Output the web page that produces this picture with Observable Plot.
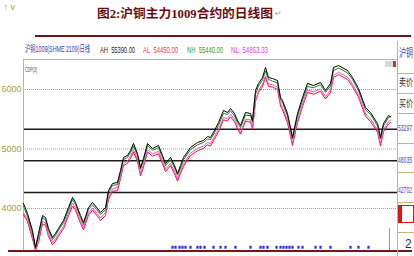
<!DOCTYPE html>
<html>
<head>
<meta charset="utf-8">
<script src="https://cdn.jsdelivr.net/npm/d3@7"></script>
<script src="https://cdn.jsdelivr.net/npm/@observablehq/plot@0.6"></script>
<style>
  html, body { margin: 0; padding: 0; background: #fff; overflow: hidden; }
  #wrap { position: relative; width: 414px; height: 256px; overflow: hidden; background: #fff; }
  #chart { position: absolute; left: 0; top: 0; }
  .t { position: absolute; white-space: nowrap; transform-origin: 0 0; display: inline-block; line-height: 1; }
  .hdr { font-family: "Liberation Sans", "Noto Sans CJK SC", sans-serif; font-size: 9px; }
  .bar { position: absolute; background: #701818; }
  .pl { position: absolute; background: #c4b878; }
</style>
</head>
<body>
<div id="wrap">
  <div id="chart"></div>
  <div class="t" id="title" style="left:97px; top:8px; font-family:'Liberation Serif','Noto Sans CJK SC',serif; font-weight:700; font-size:12.5px; color:#6a0c10;" data-w="176">图2:沪铜主力1009合约的日线图</div>
  <div class="t" style="left:275px; top:10px; font-family:'DejaVu Sans',sans-serif; font-size:8px; color:#999;">↵</div>
  <div class="bar" style="left:35px; top:35px; width:376px; height:2px;"></div>
  <div class="bar" style="left:8px; top:250px; width:404px; height:2px;"></div>

  <div class="t hdr" style="left:25px; top:45px; color:#3a3aa8;" data-w="65">沪铜1009(SHME 2109)日线</div>
  <div class="t hdr" style="left:100px; top:46px; color:#222;" data-w="35">AH&nbsp; 55390.00</div>
  <div class="t hdr" style="left:143px; top:46px; color:#f03838;" data-w="35">AL&nbsp; 54450.00</div>
  <div class="t hdr" style="left:187px; top:46px; color:#28a028;" data-w="36">NH&nbsp; 55440.00</div>
  <div class="t hdr" style="left:231px; top:46px; color:#e040e0;" data-w="37">NL&nbsp; 54863.33</div>
  <div class="t hdr" style="left:25px; top:66px; font-size:8px; color:#3a3aa8;" data-w="12">CDP(3)</div>

  <div class="pl" style="left:397px; top:41px; width:1px; height:215px;"></div>
  <div class="pl" style="left:397px; top:73px; width:17px; height:1px;"></div>
  <div class="pl" style="left:397px; top:93px; width:17px; height:1px;"></div>
  <div class="pl" style="left:397px; top:113px; width:17px; height:1px;"></div>
  <div class="pl" style="left:397px; top:143px; width:17px; height:1px;"></div>
  <div class="pl" style="left:397px; top:172px; width:17px; height:1px;"></div>
  <div class="pl" style="left:397px; top:202px; width:17px; height:1px;"></div>
  <div class="pl" style="left:397px; top:232px; width:17px; height:1px;"></div>
  <div class="t" style="left:399px; top:47px; font-family:'Noto Sans CJK SC',sans-serif; font-size:11px; color:#4848b8;" data-w="14">沪铜</div>
  <div class="t" style="left:385px; top:61px; width:8px; height:6px; background:#d8d8d8;"></div>
  <div class="t" style="left:393px; top:61px; width:3px; height:6px; background:#e03010;"></div>
  <div class="t hdr" style="left:399px; top:77px; font-family:'Noto Sans CJK SC',sans-serif; font-size:10px; color:#333;" data-w="14">卖价</div>
  <div class="t hdr" style="left:399px; top:98px; font-family:'Noto Sans CJK SC',sans-serif; font-size:10px; color:#333;" data-w="14">买价</div>
  <div class="t hdr" style="left:398px; top:124px; color:#4848c0;" data-w="14">53297</div>
  <div class="t hdr" style="left:398px; top:156px; color:#4848c0;" data-w="14">48035</div>
  <div class="t hdr" style="left:398px; top:186px; color:#4848c0;" data-w="14">42702</div>
  <div class="t" style="left:398px; top:205px; width:4px; height:18px; background:#e81010;"></div>
  <div class="t" style="left:402px; top:205px; width:11px; height:16px; border:1px solid #e81010; border-left:none;"></div>
  <div class="t" style="left:405px; top:238px; font-family:'Liberation Sans',sans-serif; font-size:12px; color:#333;">2</div>
</div>
<script>
// trading-session index of each sample
const days = [0,4,9,12,15,19,22,25,29,32,35,40,45,49,52,57,60,65,69,74,77,82,85,89,94,97,100,104,107,110,114,117,120,124,129,135,139,142,147,151,154,157,160,167,174,180,184,187,191,195,200,204,207,211,214,217,222,227,229,232,235,239,242,245,249,254,257,259,264,269,274,279,284,290,297,302,307,310,315,324,329,335,342,347,354,357,360,365,367];
const ahValues = [40840,39160,36300,33450,35800,38820,38490,36640,35130,35800,36640,37980,40170,41850,41010,38820,37650,40170,41010,40000,39330,40170,43030,44200,44370,46390,48570,48910,49750,50920,49240,46890,48400,50920,50080,50590,48910,47560,48570,47230,45880,47230,48570,50250,51090,51430,52100,51930,53110,54450,56470,56130,56810,55970,54790,53950,56130,55970,54790,59830,61010,62020,63700,62020,61850,61510,58660,58150,55970,51930,55970,58660,61010,60670,61180,59830,61010,63700,64030,63190,62020,60170,56980,56130,54290,51930,54290,55630,55390];
const nhValues = [40400,38700,35900,33300,35300,38500,38100,36300,34800,35500,36400,37600,39800,41500,40700,38500,37300,39900,40600,39700,39000,39800,42600,43900,44000,46000,48200,48600,49400,50500,48900,46600,48000,50600,49800,50200,48600,47200,48200,46900,45600,46800,48200,49900,50700,51100,51700,51600,52700,54000,56000,55800,56400,55600,54400,53600,55700,55600,54500,59200,60600,61600,63100,61700,61400,61100,58300,57800,55500,51700,55500,58200,60500,60300,60800,59500,60600,63200,63600,62800,61700,59800,56600,55800,53900,51700,53900,55300,55440];
const nlValues = [39300,38200,35400,32900,34600,37800,37600,35700,34300,34900,35800,37000,39200,40900,40100,37900,36800,39300,40100,39100,38400,39300,41900,43300,43500,45400,47500,48000,48800,49900,48300,45900,47400,49900,49200,49600,47900,46600,47600,46200,45000,46300,47500,49300,50100,50500,51100,50900,52100,53300,55300,55100,55800,55000,53800,52700,55000,54900,53600,57900,59800,60900,62300,60900,60800,60400,57600,57000,54800,51000,54700,57500,59900,59600,60100,58800,59900,62400,62900,62100,60900,59100,55900,55000,53200,50900,53300,54600,54860];
const alValues = [39000,37800,34900,32950,34300,37400,37200,35300,33900,34500,35400,36600,38800,40400,39700,37500,36400,38900,39700,38700,38000,38800,41500,42900,43000,45000,47200,47600,48400,49500,47900,45500,47000,49500,48800,49200,47500,46200,47200,45800,44600,45900,47100,48900,49700,50100,50700,50500,51700,52900,54900,54700,55400,54600,53400,52500,54700,54500,53300,58100,59500,60500,62000,60500,60400,60000,57200,56600,54400,50600,54400,57100,59500,59200,59700,58400,59500,62000,62500,61700,60500,58700,55500,54600,52800,50500,52900,54200,54450];

const gridValues = [40000, 50000, 60000];
const tickLabels = ["4000", "5000", "6000"];
const levelValues = [53297, 48035, 42702];
const signalDays = [149,152,156,159,162,167,174,177,181,190,197,202,212,227,237,240,244,253,257,260,263,266,269,275,279,292,297,307,327,335,345];
const volumeDays = [366];

const seriesList = [
  {name: "AL", values: alValues, color: "#e8103c"},
  {name: "NL", values: nlValues, color: "#ff48d0"},
  {name: "NH", values: nhValues, color: "#108a10"},
  {name: "AH", values: ahValues, color: "#000000"}
];

const yLo = 32940, yHi = 65040;
const olive = "#b8a838";
const frame = "#c4b878";

const lineMarks = seriesList.map(s =>
  Plot.line(days.map((t, i) => ({t, v: s.values[i]})), {x: "t", y: "v", stroke: s.color, strokeWidth: 1, clip: true})
);

const chart = Plot.plot({
  width: 414,
  height: 256,
  marginTop: 59,
  marginBottom: 6,
  marginLeft: 23,
  marginRight: 17,
  style: {background: "transparent", overflow: "visible"},
  x: {domain: [0, 374], axis: null},
  y: {domain: [yLo, yHi], axis: null},
  marks: [
    Plot.ruleY(gridValues, {stroke: olive, strokeWidth: 1, strokeDasharray: "1,1"}),
    Plot.ruleY(levelValues, {stroke: "#1a1a1a", strokeWidth: 1.5}),
    Plot.ruleY([yHi], {stroke: frame, strokeWidth: 1}),
    Plot.ruleX([0], {stroke: frame, strokeWidth: 1}),
    ...lineMarks,
    Plot.ruleX(signalDays, {y1: 33150, y2: 33650, stroke: "#2c2cd8", strokeWidth: 2.2}),
    Plot.ruleX(volumeDays, {y1: yLo, y2: 36640, stroke: "#9090e0", strokeWidth: 1}),
    Plot.axisY(gridValues, {
      tickSize: 0,
      tickPadding: 2,
      tickFormat: d => tickLabels[gridValues.indexOf(d)],
      fill: "#a89a48",
      fontSize: 9,
      fontFamily: "Liberation Sans Narrow, Liberation Sans, sans-serif"
    })
  ]
});
document.getElementById("chart").appendChild(chart);

document.querySelectorAll("[data-w]").forEach(el => {
  const w = el.getBoundingClientRect().width;
  if (w > 0) el.style.transform = `scaleX(${(+el.dataset.w) / w})`;
});
</script>
</body>
</html>
